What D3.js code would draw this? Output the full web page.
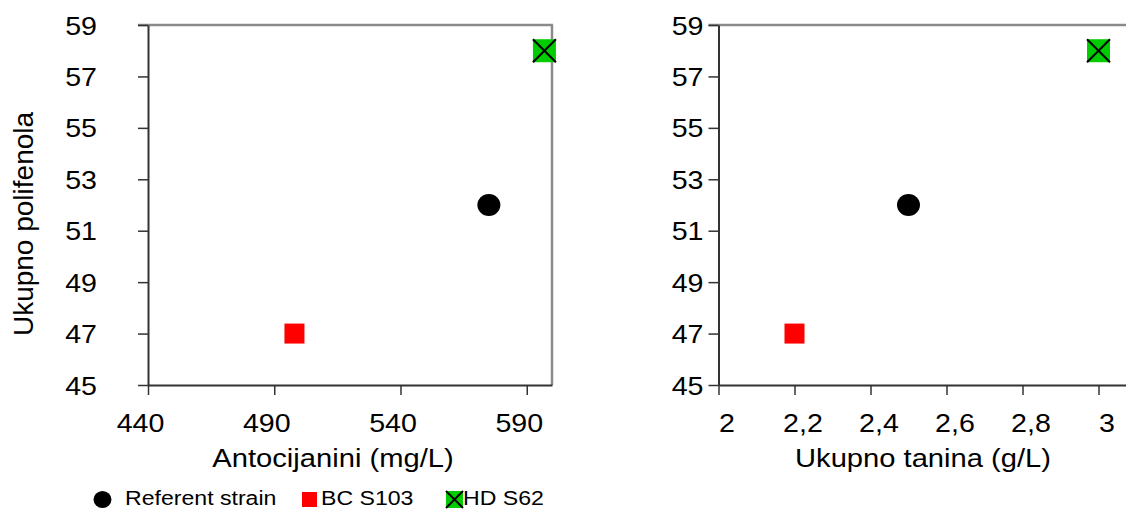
<!DOCTYPE html>
<html>
<head>
<meta charset="utf-8">
<script src="https://cdn.jsdelivr.net/npm/d3@7"></script>
<style>
  body { margin: 0; background: #fff; }
  text { font-family: "Liberation Sans", Arial, sans-serif; fill: #000; }
</style>
</head>
<body>
<svg id="chart" width="1126" height="509"></svg>
<script>
// data
const strains = ["Referent strain", "BC S103", "HD S62"];
const antocijanini = [575, 498, 597];     // mg/L
const tanini = [2.5, 2.2, 3.0];           // g/L
const polifenoli = [52, 47, 58];
const yTicks = [45, 47, 49, 51, 53, 55, 57, 59];
const xTicksLeft = [440, 490, 540, 590];
const xTicksRight = [2, 2.2, 2.4, 2.6, 2.8, 3];

var svg = d3.select("#chart");
var stretch = "scale(1.1,1)";

var panels = [
  { x: antocijanini, domain: [440, 600], range: [148, 552], ticks: xTicksLeft,
    fmt: d3.format("d"), labelGap: 51, dx: -8, title: "Antocijanini (mg/L)", titleX: 333 },
  { x: tanini, domain: [2, 3.1], range: [718.5, 1136.5], ticks: xTicksRight,
    fmt: function(v) { return String(v).replace(".", ","); }, labelGap: 15, dx: 8, title: "Ukupno tanina (g/L)", titleX: 923 }
];

var y = d3.scaleLinear().domain([45, 59]).range([385, 25]);

panels.forEach(function(p) {
  var x = d3.scaleLinear().domain(p.domain).range(p.range);
  var g = svg.append("g");

  // top and right frame (gray)
  g.append("line")
    .attr("x1", p.range[0] - 10).attr("x2", p.range[1] + 1)
    .attr("y1", y(59)).attr("y2", y(59))
    .attr("stroke", "#8a8a8a").attr("stroke-width", 2.5);
  g.append("line")
    .attr("x1", p.range[1]).attr("x2", p.range[1])
    .attr("y1", y(59)).attr("y2", y(45))
    .attr("stroke", "#8a8a8a").attr("stroke-width", 2.5);

  var ya = g.append("g")
    .attr("transform", "translate(" + p.range[0] + ",0)")
    .call(d3.axisLeft(y).tickValues(yTicks).tickSize(10).tickSizeOuter(0));
  ya.select(".domain").attr("stroke", "#333").attr("stroke-width", 2);
  ya.selectAll(".tick line").attr("stroke", "#333").attr("stroke-width", 1.5);
  ya.selectAll(".tick text")
    .attr("x", 0).attr("dy", "0.35em")
    .attr("text-anchor", "end")
    .attr("transform", "translate(" + (-p.labelGap) + ",0) " + stretch)
    .style("font-size", "26px").style("font-family", null);

  var xa = g.append("g")
    .attr("transform", "translate(0," + y(45) + ")")
    .call(d3.axisBottom(x).tickValues(p.ticks).tickFormat(p.fmt).tickSize(10).tickSizeOuter(0));
  xa.select(".domain").attr("stroke", "#333").attr("stroke-width", 2);
  xa.selectAll(".tick line").attr("stroke", "#333").attr("stroke-width", 1.5);
  xa.selectAll(".tick text")
    .attr("y", 0).attr("dy", 0)
    .attr("transform", "translate(" + p.dx + ",47) " + stretch)
    .style("font-size", "26px").style("font-family", null);

  g.append("text")
    .attr("transform", "translate(" + p.titleX + ",467) " + stretch)
    .attr("text-anchor", "middle")
    .style("font-size", "26.5px")
    .text(p.title);

  // points
  strains.forEach(function(s, i) {
    drawMarker(g, i, x(p.x[i]), y(polifenoli[i]), 1);
  });
});

function drawMarker(g, i, cx, cy, k) {
  if (i === 0) {
    g.append("ellipse").attr("cx", cx).attr("cy", cy)
      .attr("rx", 11.5 * k).attr("ry", 11 * k).attr("fill", "#000");
  } else if (i === 1) {
    var s = 20 * k;
    g.append("rect").attr("x", cx - s / 2).attr("y", cy - s / 2)
      .attr("width", s).attr("height", s).attr("fill", "#ff0000");
  } else {
    var w = 23 * k, h = 23 * k;
    g.append("rect").attr("x", cx - w / 2).attr("y", cy - h / 2)
      .attr("width", w).attr("height", h).attr("fill", "#00cc00");
    g.append("line").attr("x1", cx - w / 2).attr("y1", cy - h / 2)
      .attr("x2", cx + w / 2).attr("y2", cy + h / 2)
      .attr("stroke", "#000").attr("stroke-width", 2);
    g.append("line").attr("x1", cx + w / 2).attr("y1", cy - h / 2)
      .attr("x2", cx - w / 2).attr("y2", cy + h / 2)
      .attr("stroke", "#000").attr("stroke-width", 2);
  }
}

// y-axis title
svg.append("text")
  .attr("transform", "translate(33,224) rotate(-90)")
  .attr("text-anchor", "middle")
  .style("font-size", "28px")
  .text("Ukupno polifenola");

// legend
var legendItems = [
  { marker: [102.5, 499.5, 0.78], textX: 125 },
  { marker: [309.5, 499.5, 0.75], textX: 321 },
  { marker: [454.5, 499.5, 0.74], textX: 463 }
];
var legend = svg.append("g");
legendItems.forEach(function(d, i) {
  drawMarker(legend, i, d.marker[0], d.marker[1], d.marker[2]);
  legend.append("text")
    .attr("transform", "translate(" + d.textX + ",505) " + stretch)
    .style("font-size", "21px")
    .text(strains[i]);
});
</script>
</body>
</html>
